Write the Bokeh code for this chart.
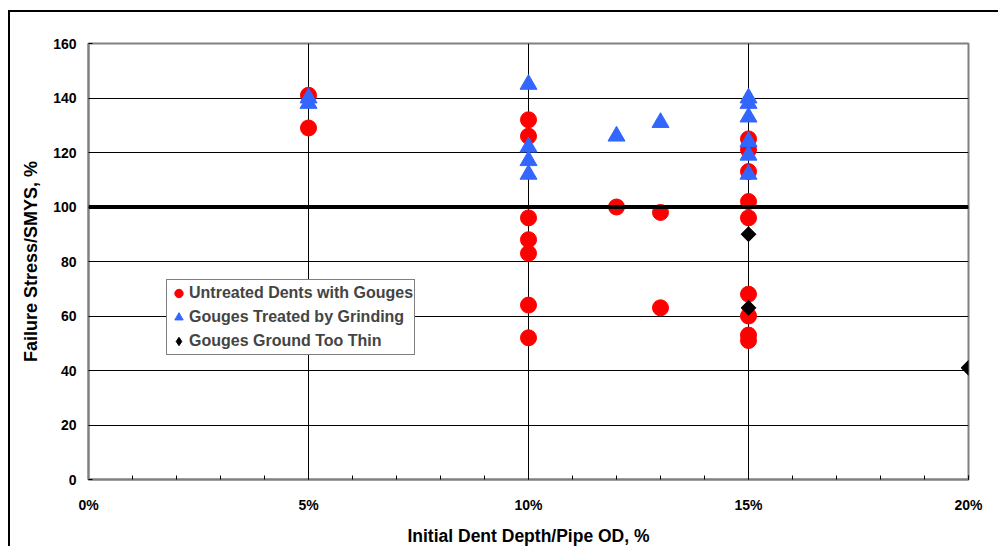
from bokeh.plotting import figure
from bokeh.models import Span, NumeralTickFormatter, FixedTicker, Legend, LegendItem
from bokeh.embed import file_html
from bokeh.resources import INLINE
import math

# ---- data ----
untreated_x = [0.05, 0.05,
               0.10, 0.10, 0.10, 0.10, 0.10, 0.10, 0.10,
               0.12,
               0.13, 0.13,
               0.15, 0.15, 0.15, 0.15, 0.15, 0.15, 0.15, 0.15, 0.15]
untreated_y = [141, 129,
               132, 126, 96, 88, 83, 64, 52,
               100,
               98, 63,
               125, 121, 113, 102, 96, 68, 60, 53, 51]

ground_x = [0.05, 0.05,
            0.10, 0.10, 0.10, 0.10,
            0.12,
            0.13,
            0.15, 0.15, 0.15, 0.15, 0.15, 0.15]
ground_y = [140, 138,
            145, 122, 117, 112,
            126,
            131,
            140, 138, 133, 124, 119, 112]

thin_x = [0.15, 0.15, 0.20]
thin_y = [90, 63, 41]

threshold = 100
x_ticks = [0.0, 0.05, 0.10, 0.15, 0.20]
y_ticks = [0, 20, 40, 60, 80, 100, 120, 140, 160]

FONT = "Liberation Sans"

p = figure(width=990, height=536, output_backend="svg", toolbar_location=None,
           x_range=(0, 0.20), y_range=(0, 160),
           min_border_left=78, min_border_right=32, min_border_top=31, min_border_bottom=68)
p.styles = {"margin-left": "8px", "margin-top": "10px",
            "border-left": "2px solid black", "border-top": "2px solid black"}

p.outline_line_color = "#808080"
p.outline_line_width = 2
p.background_fill_color = "white"
p.border_fill_color = "white"

# grid
p.xgrid.ticker = FixedTicker(ticks=x_ticks)
p.ygrid.ticker = FixedTicker(ticks=y_ticks)
p.xgrid.grid_line_color = "black"
p.ygrid.grid_line_color = "black"
p.xgrid.grid_line_width = 1
p.ygrid.grid_line_width = 1

# x axis
xa = p.xaxis[0]
xa.ticker = FixedTicker(ticks=x_ticks, minor_ticks=[i / 100 for i in range(21)])
xa.formatter = NumeralTickFormatter(format="0%")
xa.axis_line_color = "#808080"
xa.axis_line_width = 2
xa.major_tick_in = 4
xa.major_tick_out = 0
xa.minor_tick_in = 4
xa.minor_tick_out = 0
xa.major_tick_line_color = "black"
xa.minor_tick_line_color = "black"
xa.major_label_standoff = 17
xa.major_label_text_font = FONT
xa.major_label_text_font_style = "bold"
xa.major_label_text_font_size = "14px"
xa.major_label_text_color = "black"
xa.axis_label = "Initial Dent Depth/Pipe OD, %"
xa.axis_label_text_font = FONT
xa.axis_label_text_font_style = "bold"
xa.axis_label_text_font_size = "17.5px"
xa.axis_label_standoff = 10
xa.axis_label_text_color = "black"

# y axis
ya = p.yaxis[0]
ya.ticker = FixedTicker(ticks=y_ticks)
ya.axis_line_color = "#808080"
ya.axis_line_width = 2
ya.major_tick_in = 4
ya.major_tick_out = 0
ya.minor_tick_line_color = None
ya.major_tick_line_color = "black"
ya.major_label_standoff = 12
ya.major_label_text_font = FONT
ya.major_label_text_font_style = "bold"
ya.major_label_text_font_size = "14px"
ya.major_label_text_color = "black"
ya.axis_label = "Failure Stress/SMYS, %"
ya.axis_label_text_font = FONT
ya.axis_label_text_font_style = "bold"
ya.axis_label_text_font_size = "18px"
ya.axis_label_standoff = 9
ya.axis_label_text_color = "black"

# data
r1 = p.scatter(untreated_x, untreated_y, marker="circle", size=16,
               fill_color="#FF0000", line_color="#FF0000")
r2 = p.scatter(ground_x, ground_y, marker="triangle", size=17,
               fill_color="#3366FF", line_color="#3366FF")
r3 = p.scatter(thin_x, thin_y, marker="square", size=10.5, angle=math.pi / 4,
               fill_color="black", line_color="black")
# legend-only glyph (a NaN point, never drawn in the plot) so the key shows an upright diamond
r3_key = p.scatter([float("nan")], [float("nan")], marker="diamond", size=12,
                   fill_color="black", line_color="black")

p.add_layout(Span(location=threshold, dimension="width", line_color="black", line_width=4))

legend = Legend(items=[
    LegendItem(label="Untreated Dents with Gouges", renderers=[r1]),
    LegendItem(label="Gouges Treated by Grinding", renderers=[r2]),
    LegendItem(label="Gouges Ground Too Thin", renderers=[r3_key]),
], location=(78, 124))
legend.border_line_color = "black"
legend.border_line_width = 1
legend.background_fill_alpha = 1
legend.label_text_font = FONT
legend.label_text_font_style = "bold"
legend.label_text_font_size = "16px"
legend.label_height = 24
legend.glyph_height = 24
legend.glyph_width = 21
legend.label_standoff = 0
legend.spacing = 0
legend.padding = 1
legend.margin = 0
p.add_layout(legend, "center")

open("out.html", "w").write(file_html(p, INLINE))
